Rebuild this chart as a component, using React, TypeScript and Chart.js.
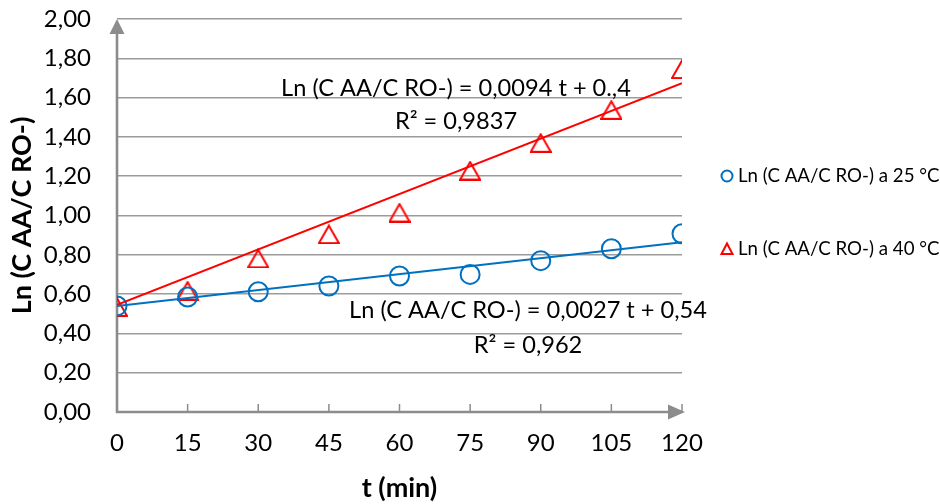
import React, { useEffect, useRef } from "react";
import { Chart, registerables } from "chart.js";

Chart.register(...registerables);

// ---- data ----
const tValues = [0, 15, 30, 45, 60, 75, 90, 105, 120];
const series25 = [0.54, 0.585, 0.612, 0.641, 0.692, 0.7, 0.77, 0.831, 0.907];
const series40 = [0.535, 0.618, 0.782, 0.905, 1.015, 1.229, 1.37, 1.538, 1.745];
const label25 = "Ln (C AA/C RO-) a 25 °C";
const label40 = "Ln (C AA/C RO-) a 40 °C";
const slope25 = 0.0027;
const intercept25 = 0.54;
const slope40 = 0.0094;
const intercept40 = 0.545;
const eq25 = "Ln (C AA/C RO-) = 0,0027 t + 0,54";
const r2_25 = "R² = 0,962";
const eq40 = "Ln (C AA/C RO-) = 0,0094 t + 0.,4";
const r2_40 = "R² = 0,9837";
const yTitle = "Ln (C AA/C RO-)";
const xTitle = "t (min)";

const BLUE = "#0070C0";
const RED = "#FF0000";
const AXIS = "#8c8c8c";
const GRID = "#9b9b9b";
const FONT = "Lato";

function makeTriangle(w: number, h: number, lw: number, color: string) {
  const c = document.createElement("canvas");
  c.width = w;
  c.height = h;
  const ctx = c.getContext("2d")!;
  ctx.strokeStyle = color;
  ctx.lineWidth = lw;
  ctx.lineJoin = "miter";
  ctx.beginPath();
  ctx.moveTo(w / 2, lw / 2 + 0.5);
  ctx.lineTo(w - lw / 2, h - lw / 2);
  ctx.lineTo(lw / 2, h - lw / 2);
  ctx.closePath();
  ctx.stroke();
  return c;
}

const axesPlugin = {
  id: "excelAxes",
  beforeDatasetsDraw(chart: any) {
    const { ctx, chartArea, scales } = chart;
    const { left, right, top, bottom } = chartArea;
    ctx.save();
    ctx.strokeStyle = AXIS;
    ctx.fillStyle = AXIS;
    ctx.lineWidth = 1.5;
    for (const t of tValues) {
      const x = scales.x.getPixelForValue(t);
      ctx.beginPath();
      ctx.moveTo(x, bottom);
      ctx.lineTo(x, bottom - 8);
      ctx.stroke();
    }
    ctx.lineWidth = 2.6;
    ctx.beginPath();
    ctx.moveTo(left, bottom + 1);
    ctx.lineTo(left, top + 12);
    ctx.stroke();
    ctx.beginPath();
    ctx.moveTo(left, top);
    ctx.lineTo(left + 7.5, top + 15);
    ctx.lineTo(left - 7.5, top + 15);
    ctx.closePath();
    ctx.fill();
    ctx.beginPath();
    ctx.moveTo(left - 1, bottom);
    ctx.lineTo(right - 10, bottom);
    ctx.stroke();
    ctx.beginPath();
    ctx.moveTo(right + 3, bottom);
    ctx.lineTo(right - 14, bottom - 7.5);
    ctx.lineTo(right - 14, bottom + 7.5);
    ctx.closePath();
    ctx.fill();
    ctx.restore();
  },
};

const annotationPlugin = {
  id: "trendLabels",
  afterDatasetsDraw(chart: any, _args: any, opts: any) {
    const { ctx, scales } = chart;
    ctx.save();
    ctx.fillStyle = "#000";
    ctx.textAlign = "center";
    ctx.textBaseline = "middle";
    ctx.font = `${opts.size}px ${FONT}`;
    for (const item of opts.items) {
      ctx.fillText(item.text, scales.x.getPixelForValue(item.x), scales.y.getPixelForValue(item.y));
    }
    ctx.restore();
  },
};

const legendPlugin = {
  id: "customLegend",
  afterDraw(chart: any, _args: any, opts: any) {
    const { ctx, chartArea } = chart;
    const items = chart.data.datasets.filter((d: any) => d.inLegend);
    ctx.save();
    ctx.font = `${opts.size}px ${FONT}`;
    ctx.textBaseline = "middle";
    ctx.textAlign = "left";
    const mx = chartArea.right + opts.markerOffset;
    items.forEach((d: any, i: number) => {
      const y = opts.firstY + i * opts.spacing;
      ctx.strokeStyle = d.borderColor;
      ctx.lineWidth = 2;
      if (d.legendShape === "circle") {
        ctx.beginPath();
        ctx.arc(mx, y, 5.5, 0, Math.PI * 2);
        ctx.stroke();
      } else {
        ctx.beginPath();
        ctx.moveTo(mx, y - 5.5);
        ctx.lineTo(mx + 5.5, y + 5);
        ctx.lineTo(mx - 5.5, y + 5);
        ctx.closePath();
        ctx.stroke();
      }
      ctx.fillStyle = "#000";
      ctx.fillText(d.label, mx + opts.textGap, y);
    });
    ctx.restore();
  },
};

export default function App() {
  const ref = useRef<HTMLCanvasElement | null>(null);

  useEffect(() => {
    if (!ref.current) return;
    const tri = makeTriangle(22, 20, 2, RED);
    const trend = (m: number, b: number) =>
      [tValues[0], tValues[tValues.length - 1]].map((t) => ({ x: t, y: b + m * t }));

    const chart = new Chart(ref.current, {
      type: "scatter",
      data: {
        datasets: [
          {
            label: "trend25",
            type: "line",
            data: trend(slope25, intercept25),
            borderColor: BLUE,
            borderWidth: 2,
            pointRadius: 0,
            fill: false,
          } as any,
          {
            label: "trend40",
            type: "line",
            data: trend(slope40, intercept40),
            borderColor: RED,
            borderWidth: 2,
            pointRadius: 0,
            fill: false,
          } as any,
          {
            label: label25,
            inLegend: true,
            legendShape: "circle",
            data: tValues.map((t, i) => ({ x: t, y: series25[i] })),
            borderColor: BLUE,
            backgroundColor: "rgba(0,0,0,0)",
            pointStyle: "circle",
            pointRadius: 9.5,
            pointBorderWidth: 2,
            showLine: false,
          } as any,
          {
            label: label40,
            inLegend: true,
            legendShape: "triangle",
            data: tValues.map((t, i) => ({ x: t, y: series40[i] })),
            borderColor: RED,
            backgroundColor: "rgba(0,0,0,0)",
            pointStyle: tri,
            pointRadius: 10,
            showLine: false,
          } as any,
        ],
      },
      options: {
        responsive: false,
        animation: false,
        devicePixelRatio: 1,
        layout: { padding: { left: 0, right: 258, top: 19, bottom: 0 } },
        plugins: {
          legend: { display: false },
          tooltip: { enabled: false },
          trendLabels: {
            size: 23.6,
            items: [
              { text: eq40, x: 72, y: 1.649 },
              { text: r2_40, x: 72, y: 1.481 },
              { text: eq25, x: 87.3, y: 0.519 },
              { text: r2_25, x: 87.3, y: 0.341 },
            ],
          },
          customLegend: { size: 18.7, markerOffset: 45, textGap: 11, firstY: 176, spacing: 73 },
        } as any,
        scales: {
          x: {
            type: "linear",
            min: 0,
            max: 120,
            afterBuildTicks: (s: any) => {
              s.ticks = tValues.map((v) => ({ value: v }));
            },
            afterFit: (s: any) => {
              s.height = 92;
              s.paddingLeft = 0;
              s.paddingRight = 0;
              s.paddingTop = 0;
              s.paddingBottom = 0;
            },
            grid: { display: false, drawTicks: false },
            border: { display: false },
            ticks: {
              padding: 17,
              color: "#000",
              font: { family: FONT, size: 24 },
              maxRotation: 0,
              callback: (v: any) => String(v),
            },
            title: {
              display: true,
              text: xTitle,
              color: "#000",
              font: { family: FONT, size: 27, weight: "bold" },
              padding: { top: 0, bottom: 0 },
            },
          },
          y: {
            min: 0,
            max: 2,
            afterFit: (s: any) => {
              s.width = 117;
              s.paddingTop = 0;
              s.paddingBottom = 0;
              s.paddingLeft = 0;
              s.paddingRight = 0;
            },
            grid: { color: GRID, lineWidth: 1.5, drawTicks: false },
            border: { display: false },
            ticks: {
              stepSize: 0.2,
              padding: 26,
              color: "#000",
              font: { family: FONT, size: 24 },
              callback: (v: any) => Number(v).toFixed(2).replace(".", ","),
            },
            title: {
              display: true,
              text: yTitle,
              color: "#000",
              font: { family: FONT, size: 27, weight: "bold" },
              padding: { top: 6, bottom: 0 },
            },
          },
        },
      },
      plugins: [axesPlugin, annotationPlugin, legendPlugin],
    });
    return () => chart.destroy();
  }, []);

  return (
    <div style={{ position: "fixed", left: 0, top: 0, width: 940, height: 504, background: "#fff" }}>
      <canvas ref={ref} width={940} height={504} style={{ display: "block" }} />
    </div>
  );
}
